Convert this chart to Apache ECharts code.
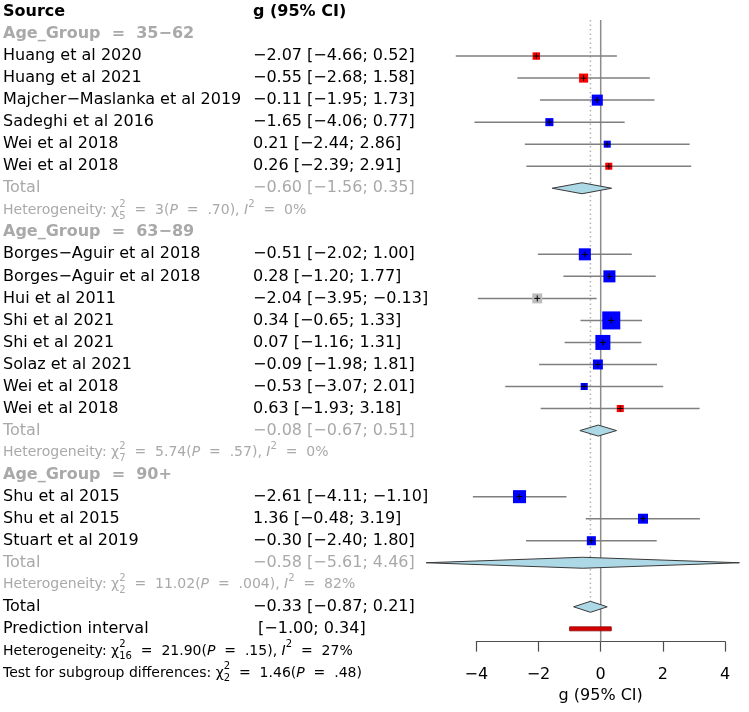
<!DOCTYPE html>
<html><head><meta charset="utf-8">
<script src="https://cdn.jsdelivr.net/npm/echarts@6/dist/echarts.min.js"></script>
<style>html,body{margin:0;padding:0;background:#fff}#c{width:749px;height:712px}</style>
</head><body><div id="c"></div>
<script>
// ---------------- data ----------------
const studies = ["Huang et al 2020","Huang et al 2021","Majcher\u2212Maslanka et al 2019","Sadeghi et al 2016","Wei et al 2018","Wei et al 2018",
  "Borges\u2212Aguir et al 2018","Borges\u2212Aguir et al 2018","Hui et al 2011","Shi et al 2021","Shi et al 2021","Solaz et al 2021","Wei et al 2018","Wei et al 2018",
  "Shu et al 2015","Shu et al 2015","Stuart et al 2019"];
const studyGroup = [0,0,0,0,0,0, 1,1,1,1,1,1,1,1, 2,2,2];
const g     = [-2.07,-0.55,-0.11,-1.65, 0.21, 0.26, -0.51, 0.28,-2.04, 0.34, 0.07,-0.09,-0.53, 0.63, -2.61, 1.36,-0.30];
const lower = [-4.66,-2.68,-1.95,-4.06,-2.44,-2.39, -2.02,-1.20,-3.95,-0.65,-1.16,-1.98,-3.07,-1.93, -4.11,-0.48,-2.40];
const upper = [ 0.52, 1.58, 1.73, 0.77, 2.86, 2.91,  1.00, 1.77,-0.13, 1.33, 1.31, 1.81, 2.01, 3.18, -1.10, 3.19, 1.80];
const weight = [2.9,4.3,6.4,3.4,2.6,2.6, 7.6,7.6,5.2,17.0,11.8,5.2,2.6,2.6, 8.9,5.2,4.3];
const markerType = [1,1,0,0,0,1, 0,0,2,0,0,0,0,1, 0,0,0];

const groupLabels = ["Age_Group = 35\u221262","Age_Group = 63\u221289","Age_Group = 90+"];
const groupEst   = [-0.60,-0.08,-0.58];
const groupLower = [-1.56,-0.67,-5.61];
const groupUpper = [ 0.35, 0.51, 4.46];
const groupHetDf  = [5,7,2];
const groupHetChi = ["3","5.74","11.02"];
const groupHetP   = [".70",".57",".004"];
const groupHetI2  = ["0%","0%","82%"];

const overallEst = -0.33, overallLower = -0.87, overallUpper = 0.21;
const predLower = -1.00, predUpper = 0.34;
const overallHetDf = 16, overallHetChi = "21.90", overallHetP = ".15", overallHetI2 = "27%";
const subgroupDf = 2, subgroupChi = "1.46", subgroupP = ".48";
const xTicks = [-4,-2,0,2,4];

// ---------------- layout / style ----------------
const FONT = "DejaVu Sans";
const BLACK = "#000000", GRAY = "#a9a9a9";
const TYPE_COLORS = ["#0000ff","#ff0000","#bdbdbd"];
const ROW_H = 22.03, ROW0_Y = 12;
const S = 31.1, X0 = 600.7;       // px per unit, pixel of x=0
const XMIN = -5.7, XMAX = 4.7;
const AXIS_ROW = 28.58, LINE_TOP_ROW = 0.36;
const COL2 = 250, TEXT_X = 3;
const BOX_K = 4.37;               // box side = BOX_K * sqrt(weight)
const DIAMOND_H = 5.5;
const EQ = "  =  ";

// ---------------- rows ----------------
const rows = [{kind:"head"}];
groupLabels.forEach((gl,k) => {
  rows.push({kind:"ghead", k});
  studies.forEach((s,i) => { if (studyGroup[i] === k) rows.push({kind:"study", i}); });
  rows.push({kind:"gtotal", k});
  rows.push({kind:"ghet", k});
});
rows.push({kind:"total"},{kind:"pred"},{kind:"het"},{kind:"test"});
const NROWS = rows.length;
const rowOfStudy = [], rowOfGroupTotal = [];
let rowTotal = 0, rowPred = 0;
rows.forEach((r,idx) => {
  if (r.kind === "study") rowOfStudy[r.i] = idx;
  if (r.kind === "gtotal") rowOfGroupTotal[r.k] = idx;
  if (r.kind === "total") rowTotal = idx;
  if (r.kind === "pred") rowPred = idx;
});

function fmtNum(v){ return (v < 0 ? "\u2212" : "") + Math.abs(v).toFixed(2); }
function ciText(e,l,u){ return fmtNum(e) + " [" + fmtNum(l) + "; " + fmtNum(u) + "]"; }
function chi(sfx, df){ return "{t"+sfx+"|\u03c7}{q"+sfx+"|2}{s"+sfx+"|"+df+"}"; }
function hetText(sfx, df, chiV, p, i2){
  return "{t"+sfx+"|Heterogeneity: }" + chi(sfx, df) + "{t"+sfx+"|"+EQ+chiV+"(}{i"+sfx+"|P}{t"+sfx+"|"+EQ+p+"), }{i"+sfx+"|I}{p"+sfx+"|2}{t"+sfx+"|"+EQ+i2+"}";
}

const rich = {};
function addStyles(sfx, color){
  rich["n"+sfx]  = {width: COL2, fontSize: 16, color, fontFamily: FONT, lineHeight: 22};
  rich["c"+sfx]  = {fontSize: 16, color, fontFamily: FONT, lineHeight: 22};
  rich["b"+sfx]  = {width: COL2, fontSize: 16, fontWeight: "bold", color, fontFamily: FONT, lineHeight: 22};
  rich["bc"+sfx] = {fontSize: 16, fontWeight: "bold", color, fontFamily: FONT, lineHeight: 22};
  rich["t"+sfx]  = {fontSize: 14, color, fontFamily: FONT, lineHeight: 22};
  rich["i"+sfx]  = {fontSize: 14, fontStyle: "italic", color, fontFamily: FONT, lineHeight: 22};
  rich["p"+sfx]  = {fontSize: 10, color, fontFamily: FONT, verticalAlign: "top", lineHeight: 12};
  rich["q"+sfx]  = {fontSize: 10, color, fontFamily: FONT, verticalAlign: "top", lineHeight: 12, width: 0.01};
  rich["s"+sfx]  = {fontSize: 10, color, fontFamily: FONT, verticalAlign: "bottom", lineHeight: 10};
}
addStyles("", BLACK);
addStyles("g", GRAY);

function rowLabel(idx){
  const r = rows[idx];
  switch (r.kind) {
    case "head":   return "{b|Source}{bc|g (95% CI)}";
    case "ghead":  return "{bg|" + groupLabels[r.k].replace(" = ", EQ) + "}";
    case "study":  return "{n|" + studies[r.i] + "}{c|" + ciText(g[r.i], lower[r.i], upper[r.i]) + "}";
    case "gtotal": return "{ng|Total}{cg|" + ciText(groupEst[r.k], groupLower[r.k], groupUpper[r.k]) + "}";
    case "ghet":   return hetText("g", groupHetDf[r.k], groupHetChi[r.k], groupHetP[r.k], groupHetI2[r.k]);
    case "total":  return "{n|Total}{c|" + ciText(overallEst, overallLower, overallUpper) + "}";
    case "pred":   return "{n|Prediction interval}{c| [" + fmtNum(predLower) + "; " + fmtNum(predUpper) + "]}";
    case "het":    return hetText("", overallHetDf, overallHetChi, overallHetP, overallHetI2);
    case "test":   return "{t|Test for subgroup differences: }" + chi("", subgroupDf) + "{t|" + EQ + subgroupChi + "(}{i|P}{t|" + EQ + subgroupP + ")}";
  }
  return "";
}

// ---------------- series data ----------------
const studyData = studies.map((s,i) => [g[i], lower[i], upper[i], rowOfStudy[i], weight[i], markerType[i]]);
const diamondData = groupEst.map((e,k) => [e, groupLower[k], groupUpper[k], rowOfGroupTotal[k]]);
diamondData.push([overallEst, overallLower, overallUpper, rowTotal]);

function renderStudy(params, api){
  const est = api.value(0), lo = api.value(1), hi = api.value(2), row = api.value(3), w = api.value(4), t = api.value(5);
  const a = api.coord([lo,row]), b = api.coord([hi,row]), c = api.coord([est,row]);
  const side = BOX_K * Math.sqrt(w);
  return {type:"group", children:[
    {type:"line", shape:{x1:a[0], y1:a[1], x2:b[0], y2:b[1]}, style:{stroke:"#7f7f7f", lineWidth:1.5}},
    {type:"rect", shape:{x:c[0]-side/2, y:c[1]-side/2, width:side, height:side}, style:{fill:TYPE_COLORS[t], stroke:null}},
    {type:"line", shape:{x1:c[0]-3, y1:c[1], x2:c[0]+3, y2:c[1]}, style:{stroke:"#000", lineWidth:1}},
    {type:"line", shape:{x1:c[0], y1:c[1]-3, x2:c[0], y2:c[1]+3}, style:{stroke:"#000", lineWidth:1}}
  ]};
}
function renderDiamond(params, api){
  const est = api.value(0), lo = api.value(1), hi = api.value(2), row = api.value(3);
  const a = api.coord([lo,row]), b = api.coord([hi,row]), c = api.coord([est,row]);
  return {type:"polygon", shape:{points:[[a[0],a[1]],[c[0],c[1]-DIAMOND_H],[b[0],b[1]],[c[0],c[1]+DIAMOND_H]]},
    style:{fill:"#add8e6", stroke:"#3a3a3a", lineWidth:1}};
}
function renderPred(params, api){
  const lo = api.value(0), hi = api.value(1), row = api.value(2);
  const a = api.coord([lo,row]), b = api.coord([hi,row]);
  return {type:"rect", shape:{x:a[0], y:a[1]-2, width:b[0]-a[0], height:4}, style:{fill:"#d40000", stroke:"#8a0000", lineWidth:0.8}};
}

// ---------------- chart ----------------
const gridTop = ROW0_Y - ROW_H/2;
const gridLeft = X0 + XMIN*S;
const axisY = gridTop + (AXIS_ROW + 0.5)*ROW_H;

const chart = echarts.init(document.getElementById("c"), null, {renderer:"canvas"});
chart.setOption({
  animation:false,
  backgroundColor:"#ffffff",
  grid:[
    {left:gridLeft, top:gridTop, width:(XMAX-XMIN)*S, height:NROWS*ROW_H, containLabel:false},
    {left:X0 - 4*S, top:axisY - 1, width:8*S, height:1, containLabel:false}
  ],
  xAxis:[
    {gridIndex:0, type:"value", min:XMIN, max:XMAX, show:false},
    {gridIndex:1, type:"value", min:xTicks[0], max:xTicks[xTicks.length-1], interval:2,
      axisLine:{show:true, lineStyle:{color:"#4d4d4d", width:1.2}},
      axisTick:{show:true, length:10, lineStyle:{color:"#4d4d4d", width:1.2}},
      axisLabel:{margin:25, fontSize:16, color:"#000", fontFamily:FONT, formatter:v => (v<0?"\u2212":"") + Math.abs(v)},
      splitLine:{show:false},
      name:"g (95% CI)", nameLocation:"middle", nameGap:46,
      nameTextStyle:{fontSize:16, color:"#000", fontFamily:FONT}}
  ],
  yAxis:[
    {gridIndex:0, type:"category", inverse:true, data:rows.map((r,i)=>String(i)),
      axisLine:{show:false}, axisTick:{show:false}, splitLine:{show:false},
      axisLabel:{interval:0, align:"left", margin:gridLeft - TEXT_X, formatter:(v,idx)=>rowLabel(idx), rich}},
    {gridIndex:0, type:"value", inverse:true, min:-0.5, max:NROWS-0.5, show:false},
    {gridIndex:1, type:"value", show:false}
  ],
  series:[
    {type:"line", xAxisIndex:0, yAxisIndex:1, z:1, symbol:"none", silent:true,
      data:[[0, LINE_TOP_ROW],[0, AXIS_ROW]], lineStyle:{color:"#8c8c8c", width:1.5}},
    {type:"line", xAxisIndex:0, yAxisIndex:1, z:1, symbol:"none", silent:true,
      data:[[overallEst, LINE_TOP_ROW],[overallEst, rowTotal]], lineStyle:{color:"#b0b0b0", width:1.5, type:[1.5,3]}},
    {type:"custom", xAxisIndex:0, yAxisIndex:1, z:3, renderItem:renderStudy, data:studyData, silent:true},
    {type:"custom", xAxisIndex:0, yAxisIndex:1, z:3, renderItem:renderDiamond, data:diamondData, silent:true},
    {type:"custom", xAxisIndex:0, yAxisIndex:1, z:3, renderItem:renderPred, data:[[predLower, predUpper, rowPred]], silent:true}
  ]
});
</script>
</body></html>
